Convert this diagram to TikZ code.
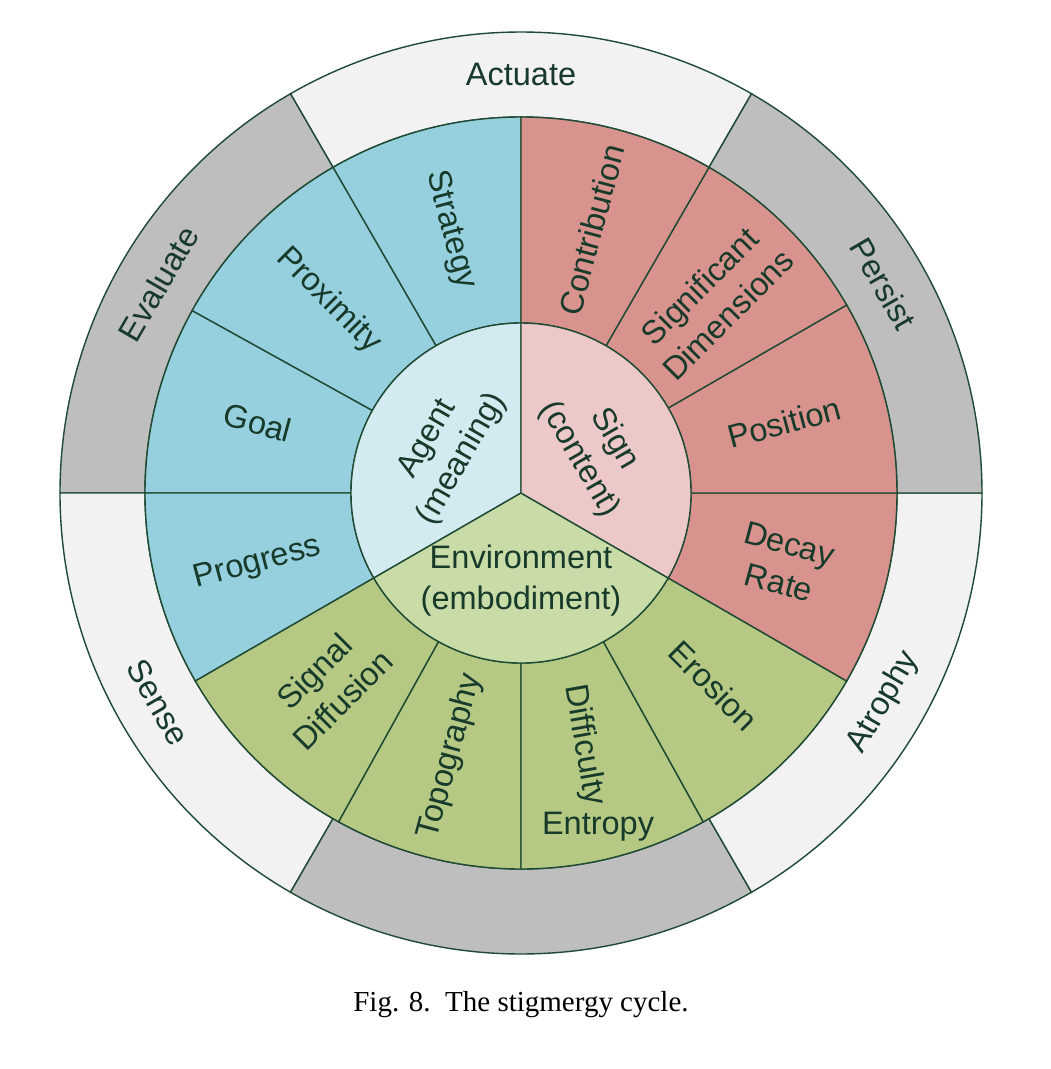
\documentclass[tikz,border=0pt]{standalone}
\usepackage{fontspec}
\setmainfont{Liberation Sans}
\newfontfamily\capfont{Liberation Serif}
\definecolor{lnc}{HTML}{1F4A33}
\definecolor{txc}{HTML}{173A2A}
\definecolor{bl}{HTML}{96CFDD}
\definecolor{lbl}{HTML}{D3EBF0}
\definecolor{rd}{HTML}{D9938F}
\definecolor{lrd}{HTML}{ECC9C8}
\definecolor{gr}{HTML}{B5C985}
\definecolor{lgr}{HTML}{C9DBA6}
\definecolor{gy}{HTML}{BEBEBE}
\definecolor{lgy}{HTML}{F2F2F2}
\newcommand{\sect}[5]{\filldraw[fill=#1,draw=lnc,line width=0.8pt] (#2:#4) arc (#2:#3:#4) -- (#3:#5) arc (#3:#2:#5) -- cycle;}
\tikzset{lab/.style={text=txc,font=\fontsize{18.5}{23}\selectfont,align=center,inner sep=0pt}}
\begin{document}
\begin{tikzpicture}
\useasboundingbox[fill=white] (-10.42,-11.52) rectangle (10.58,9.86);
% outer ring
\sect{lgy}{60}{120}{7.52}{9.22}
\sect{gy}{120}{180}{7.52}{9.22}
\sect{lgy}{180}{240}{7.52}{9.22}
\sect{gy}{240}{300}{7.52}{9.22}
\sect{lgy}{300}{360}{7.52}{9.22}
\sect{gy}{0}{60}{7.52}{9.22}
% middle ring
\sect{bl}{90}{120}{3.4}{7.52}
\sect{bl}{120}{151}{3.4}{7.52}
\sect{bl}{151}{180}{3.4}{7.52}
\sect{bl}{180}{210}{3.4}{7.52}
\sect{gr}{210}{241}{3.4}{7.52}
\sect{gr}{241}{270}{3.4}{7.52}
\sect{gr}{270}{299}{3.4}{7.52}
\sect{gr}{299}{330}{3.4}{7.52}
\sect{rd}{-30}{0}{3.4}{7.52}
\sect{rd}{0}{30}{3.4}{7.52}
\sect{rd}{30}{60}{3.4}{7.52}
\sect{rd}{60}{90}{3.4}{7.52}
% inner
\filldraw[fill=lbl,draw=lnc,line width=0.8pt] (0,0) -- (90:3.4) arc (90:210:3.4) -- cycle;
\filldraw[fill=lgr,draw=lnc,line width=0.8pt] (0,0) -- (210:3.4) arc (210:330:3.4) -- cycle;
\filldraw[fill=lrd,draw=lnc,line width=0.8pt] (0,0) -- (-30:3.4) arc (-30:90:3.4) -- cycle;
% outer labels
\node[lab] (act) at (90:8.37) {Actuate};
\node[lab,rotate=60] (eva) at (150:8.37) {Evaluate};
\node[lab,rotate=-60] (sen) at (210:8.37) {Sense};
\node[lab,rotate=60] (atr) at (330:8.37) {Atrophy};
\node[lab,rotate=-60] (per) at (30:8.37) {Persist};
% middle labels
\node[lab,rotate=-75] (str) at (105:5.45) {Strategy};
\node[lab,rotate=-45] (pro) at (135:5.45) {Proximity};
\node[lab,rotate=-15] (goa) at (165:5.45) {Goal};
\node[lab,rotate=15] (prg) at (195:5.45) {Progress};
\node[lab,rotate=45] (sig) at (225:5.45) {Signal\\Diffusion};
\node[lab,rotate=75] (top) at (255:5.45) {Topography};
\node[lab,rotate=-80] (dif) at (284:5.2) {Difficulty};
\node[lab] (ent) at (283:6.85) {Entropy};
\node[lab,rotate=-45] (ero) at (315:5.45) {Erosion};
\node[lab,rotate=-15] (dec) at (345:5.45) {Decay\\Rate};
\node[lab,rotate=15] (pos) at (15:5.45) {Position};
\node[lab,rotate=45] (sgd) at (45:5.45) {Significant\\Dimensions};
\node[lab,rotate=75] (con) at (75:5.45) {Contribution};
% inner labels
\node[lab,rotate=60] (age) at (150:1.75) {Agent\\(meaning)};
\node[lab,rotate=-60] (sgn) at (30:1.75) {Sign\\(content)};
\node[lab] (env) at (270:1.75) {Environment\\(embodiment)};
% caption
\node[font=\capfont\fontsize{16.5}{19}\selectfont,inner sep=0pt] (cap) at (0,-10.24) {Fig. 8.\ \ The stigmergy cycle.};
\end{tikzpicture}
\end{document}
